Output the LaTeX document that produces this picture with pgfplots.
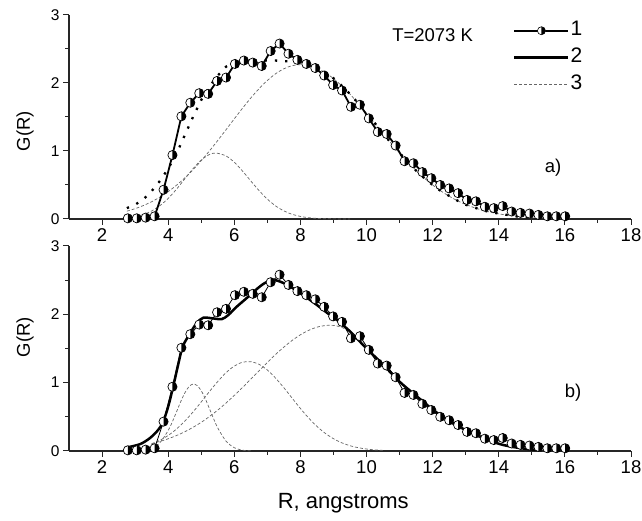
\documentclass[border=0pt]{standalone}
\usepackage{fontspec}
\setmainfont{Liberation Sans}
\usepackage{pgfplots}
\pgfplotsset{compat=1.18}

\pgfdeclareplotmark{halfcirc}{%
  \pgfpathcircle{\pgfpointorigin}{\pgfplotmarksize}%
  \pgfsetfillcolor{white}%
  \pgfusepathqfillstroke
  \pgfpathmoveto{\pgfqpoint{0pt}{\pgfplotmarksize}}%
  \pgfpatharc{90}{-90}{\pgfplotmarksize}%
  \pgfpathclose
  \pgfsetfillcolor{black}%
  \pgfusepathqfill
}

\pgfplotsset{
  myaxis/.style={
    scale only axis, width=562pt,
    xmin=1, xmax=18, ymin=0, ymax=3,
    axis lines=left, axis line style={-, line width=1.2pt, color=black!85},
    xtick={2,4,...,18}, ytick={0,1,2,3},
    minor x tick num=1, minor y tick num=1,
    tick align=outside, major tick length=6pt, minor tick length=4pt,
    every tick/.style={line width=1pt, color=black!85},
    xticklabel style={font=\fontsize{18.5}{20}\selectfont},
    yticklabel style={font=\fontsize{15.5}{17}\selectfont},
    /pgf/number format/assume math mode=true,
    clip=false,
    ylabel={G(R)},
    ylabel style={font=\fontsize{18.5}{20}\selectfont, anchor=center},
  },
  dataser/.style={black, mark=halfcirc, mark size=4.6pt,
    mark options={solid, line width=0.7pt, draw=black}},
  gdash/.style={black!60, line width=0.7pt, dash pattern=on 3pt off 2pt, smooth},
  legend image code/.code={%
    \draw[mark repeat=2, mark phase=2, #1] plot coordinates {(0pt,0pt) (27pt,0pt) (54pt,0pt)};%
  },
}

\newcommand{\dataone}{
(2.78,0.01)(3.05,0.01)(3.32,0.02)(3.59,0.04)(3.86,0.43)(4.13,0.94)(4.40,1.51)
(4.67,1.71)(4.94,1.85)(5.21,1.84)(5.48,2.03)(5.75,2.08)(6.02,2.28)(6.29,2.33)
(6.56,2.30)(6.83,2.25)(7.10,2.47)(7.37,2.58)(7.64,2.43)(7.91,2.34)(8.18,2.28)
(8.45,2.22)(8.72,2.11)(8.99,1.97)(9.26,1.89)(9.53,1.65)(9.80,1.68)(10.07,1.48)
(10.34,1.28)(10.61,1.25)(10.88,1.08)(11.15,0.85)(11.42,0.82)(11.69,0.69)(11.96,0.60)
(12.23,0.50)(12.50,0.45)(12.77,0.38)(13.04,0.28)(13.31,0.26)(13.58,0.18)(13.85,0.16)
(14.12,0.19)(14.39,0.11)(14.66,0.09)(14.93,0.08)(15.20,0.06)(15.47,0.04)(15.74,0.04)
(16.01,0.04)}

\begin{document}
\begin{tikzpicture}[x=1pt,y=1pt]
\useasboundingbox (0,0) rectangle (642,521);

% ---------------- top panel a) ----------------
\begin{axis}[myaxis, height=204pt, at={(69pt,302pt)}, anchor=south west,
  ylabel style={at={(axis description cs:-0.078,0.43)}},
  legend style={draw=none, fill=none, at={(axis cs:14.43,2.97)}, anchor=north west,
    font=\fontsize{21}{21}\selectfont, inner sep=0pt, row sep=0pt,
    nodes={inner sep=1pt, text height=17pt, text depth=8pt}},
  legend cell align=left,
]
\addlegendimage{black, line width=2pt, mark=halfcirc, mark size=4pt, mark options={solid, line width=0.6pt}}
\addlegendentry{1}
\addlegendimage{black, line width=2.5pt}
\addlegendentry{2}
\addlegendimage{black!60, line width=0.7pt, dash pattern=on 3pt off 2pt}
\addlegendentry{3}

\addplot[gdash, forget plot] coordinates {
(2.75,0.017)(3.0,0.035)(3.25,0.066)(3.5,0.118)(3.75,0.196)(4.0,0.303)(4.25,0.437)
(4.5,0.588)(4.75,0.739)(5.0,0.867)(5.25,0.949)(5.45,0.970)(5.75,0.927)(6.0,0.834)
(6.25,0.704)(6.5,0.559)(6.75,0.417)(7.0,0.292)(7.25,0.192)(7.5,0.119)(7.75,0.069)
(8.0,0.038)(8.25,0.019)(8.5,0.009)(8.75,0.004)(9.0,0.002)(9.5,0.0)};
\addplot[gdash, forget plot] coordinates {
(2.75,0.115)(3.0,0.152)(3.25,0.198)(3.5,0.254)(3.75,0.322)(4.0,0.402)(4.25,0.496)
(4.5,0.603)(4.75,0.724)(5.0,0.858)(5.25,1.002)(5.5,1.155)(5.75,1.313)(6.0,1.473)
(6.25,1.630)(6.5,1.780)(6.75,1.917)(7.0,2.037)(7.25,2.136)(7.5,2.209)(7.75,2.255)
(8.0,2.270)(8.25,2.257)(8.5,2.217)(8.75,2.152)(9.0,2.065)(9.25,1.958)(9.5,1.835)
(9.75,1.700)(10.0,1.555)(10.25,1.407)(10.5,1.258)(10.75,1.111)(11.0,0.970)
(11.25,0.837)(11.5,0.713)(11.75,0.601)(12.0,0.500)(12.25,0.412)(12.5,0.335)
(12.75,0.269)(13.0,0.214)(13.25,0.168)(13.5,0.130)(13.75,0.100)(14.0,0.076)
(14.25,0.057)(14.5,0.042)(14.75,0.031)(15.0,0.022)(15.5,0.011)(16.0,0.005)};
\addplot[black, line width=2.3pt, dash pattern=on 2.3pt off 8pt, forget plot] coordinates {
(2.75,0.16)(3.0,0.21)(3.25,0.29)(3.5,0.41)(3.75,0.56)(4.0,0.74)(4.25,0.96)(4.5,1.23)
(4.75,1.50)(5.0,1.75)(5.25,1.95)(5.5,2.11)(5.75,2.24)(6.0,2.31)(6.25,2.33)(6.5,2.34)
(6.75,2.33)(7.0,2.33)(7.25,2.33)(7.5,2.32)(7.75,2.32)(8.0,2.31)(8.25,2.28)(8.5,2.23)
(8.75,2.16)(9.0,2.07)(9.25,1.96)(9.5,1.84)(9.75,1.70)(10.0,1.56)(10.25,1.41)
(10.5,1.26)(10.75,1.11)(11.0,0.97)(11.25,0.84)(11.5,0.71)(11.75,0.60)(12.0,0.50)
(12.25,0.41)(12.5,0.34)(12.75,0.27)(13.0,0.21)(13.25,0.17)(13.5,0.13)(13.75,0.10)
(14.0,0.08)(14.5,0.04)(15.0,0.02)(16.0,0.01)};
\addplot[dataser, line width=1.8pt, forget plot] coordinates {\dataone};

\node[font=\fontsize{18.5}{20}\selectfont] at (axis cs:12.0,2.7) {T=2073 K};
\node[font=\fontsize{18.5}{20}\selectfont] at (axis cs:15.64,0.75) {a)};
\end{axis}

% ---------------- bottom panel b) ----------------
\begin{axis}[myaxis, height=205pt, at={(69pt,70pt)}, anchor=south west,
  ylabel style={at={(axis description cs:-0.078,0.556)}},
  xlabel={R, angstroms},
  xlabel style={font=\fontsize{22}{24}\selectfont, at={(axis description cs:0.488,-0.254)}, anchor=center},
]
\addplot[gdash] coordinates {
(3.5,0.039)(3.75,0.122)(4.0,0.299)(4.125,0.426)(4.25,0.570)(4.375,0.717)(4.5,0.847)
(4.625,0.940)(4.75,0.980)(4.875,0.958)(5.0,0.882)(5.125,0.762)(5.25,0.618)
(5.375,0.471)(5.5,0.337)(5.75,0.144)(6.0,0.048)(6.25,0.012)(6.5,0.003)};
\addplot[gdash] coordinates {
(3.5,0.103)(3.75,0.156)(4.0,0.228)(4.25,0.321)(4.5,0.436)(4.75,0.570)(5.0,0.718)
(5.25,0.871)(5.5,1.017)(5.75,1.146)(6.0,1.243)(6.25,1.299)(6.5,1.307)(6.75,1.268)
(7.0,1.185)(7.25,1.066)(7.5,0.925)(7.75,0.773)(8.0,0.622)(8.25,0.482)(8.5,0.360)
(8.75,0.259)(9.0,0.180)(9.25,0.120)(9.5,0.077)(9.75,0.048)(10.0,0.029)(10.25,0.016)
(10.5,0.009)};
\addplot[gdash] coordinates {
(3.5,0.109)(3.75,0.140)(4.0,0.179)(4.25,0.226)(4.5,0.281)(4.75,0.346)(5.0,0.420)
(5.25,0.505)(5.5,0.599)(5.75,0.702)(6.0,0.813)(6.25,0.930)(6.5,1.052)(6.75,1.175)
(7.0,1.296)(7.25,1.413)(7.5,1.521)(7.75,1.618)(8.0,1.701)(8.25,1.766)(8.5,1.812)
(8.75,1.836)(8.9,1.840)(9.0,1.838)(9.25,1.81)(9.5,1.74)(9.75,1.63)(10.0,1.49)
(10.25,1.37)(10.5,1.24)(10.75,1.12)(11.0,1.00)(11.25,0.89)(11.5,0.79)(11.75,0.69)
(12.0,0.59)(12.25,0.50)(12.5,0.42)(12.75,0.35)(13.0,0.29)(13.25,0.24)(13.5,0.18)
(13.75,0.14)(14.0,0.10)(14.25,0.07)(14.5,0.05)(14.75,0.03)(15.0,0.02)(15.25,0.01)};
\addplot[dataser, line width=0.8pt] coordinates {\dataone};
\addplot[black, line width=2.5pt, smooth] coordinates {
(2.74,0.05)(3.15,0.10)(3.45,0.19)(3.70,0.31)(3.85,0.43)(4.00,0.65)(4.15,0.94)
(4.31,1.28)(4.44,1.53)(4.66,1.72)(4.86,1.87)(5.06,1.95)(5.36,1.94)(5.62,1.93)
(5.82,1.99)(6.07,2.11)(6.38,2.24)(6.68,2.37)(6.93,2.46)(7.18,2.50)(7.38,2.48)
(7.68,2.41)(8.09,2.28)(8.49,2.14)(8.84,2.01)(9.0,1.96)(9.50,1.75)(10.0,1.50)
(10.51,1.26)(11.01,1.01)(11.52,0.80)(12.02,0.60)(12.52,0.43)(13.03,0.30)
(13.53,0.19)(14.04,0.10)(14.54,0.05)(15.04,0.02)(15.3,0.01)};

\node[font=\fontsize{18.5}{20}\selectfont] at (axis cs:16.25,0.85) {b)};
\end{axis}
\end{tikzpicture}
\end{document}
